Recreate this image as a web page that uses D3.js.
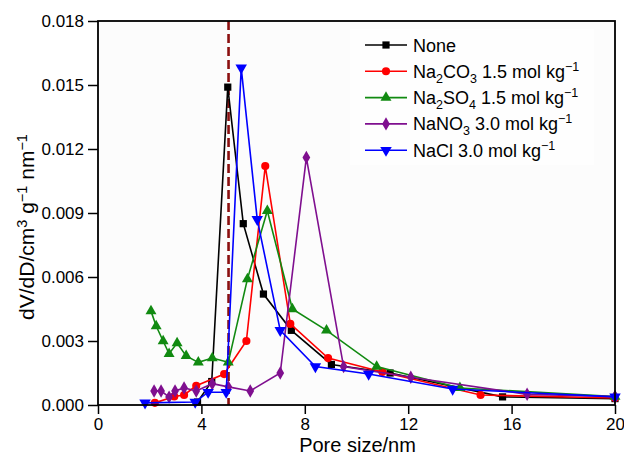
<!DOCTYPE html>
<html>
<head>
<meta charset="utf-8">
<script src="https://cdn.jsdelivr.net/npm/d3@7"></script>
<style>
  body { margin: 0; background: #fff; }
  svg { font-family: "Liberation Sans", Arial, sans-serif; }
</style>
</head>
<body>
<svg id="chart" width="624" height="454"></svg>
<script>
// pore size distributions: [pore size nm, dV/dD]
var noneData = [[3.85,0.00014],[4.4,0.0011],[5.02,0.0149],[5.62,0.0085],[6.4,0.0052],[7.48,0.0035],[9.03,0.0019],[11.3,0.0015],[15.65,0.00038],[20,0.0003]];
var na2co3Data = [[2.2,0.0001],[2.95,0.0004],[3.33,0.00047],[3.8,0.0009],[4.88,0.00145],[5.74,0.003],[6.47,0.0112],[7.44,0.0038],[8.9,0.0022],[11.0,0.00155],[14.8,0.00047],[20,0.00033]];
var na2so4Data = [[2.05,0.0044],[2.25,0.0037],[2.52,0.003],[2.75,0.0024],[3.06,0.0029],[3.41,0.0023],[3.88,0.002],[4.42,0.0022],[5.04,0.002],[5.78,0.0059],[6.55,0.0091],[7.52,0.0045],[8.84,0.0035],[10.78,0.0018],[14.0,0.0008],[20,0.0004]];
var nano3Data = [[2.17,0.00066],[2.44,0.00066],[2.75,0.00037],[2.98,0.00066],[3.33,0.0008],[3.8,0.00066],[4.42,0.001],[5.04,0.00085],[5.89,0.00066],[7.05,0.0015],[8.06,0.0116],[9.5,0.0018],[12.1,0.0013],[16.6,0.0005],[20,0.0004]];
var naclData = [[1.82,0.0001],[3.76,0.00014],[4.26,0.0006],[4.96,0.0006],[5.54,0.0158],[6.16,0.0087],[7.05,0.0035],[8.41,0.0018],[10.47,0.00145],[13.72,0.00075],[20,0.00038]];

var xTicks = [0, 4, 8, 12, 16, 20];
var yTicks = [0, 0.003, 0.006, 0.009, 0.012, 0.015, 0.018];
var markerLine = 5.05;

// legend names: [text, "sub" | "sup" | null]
var series = [
  {name: [["None"]], data: noneData, color: "#000000", symbol: d3.symbolSquare},
  {name: [["Na"], ["2","sub"], ["CO"], ["3","sub"], [" 1.5 mol kg"], ["\u22121","sup"]], data: na2co3Data, color: "#ff0000", symbol: d3.symbolCircle},
  {name: [["Na"], ["2","sub"], ["SO"], ["4","sub"], [" 1.5 mol kg"], ["\u22121","sup"]], data: na2so4Data, color: "#118a11", symbol: d3.symbolTriangle},
  {name: [["NaNO"], ["3","sub"], [" 3.0 mol kg"], ["\u22121","sup"]], data: nano3Data, color: "#7f0f8f", symbol: d3.symbolDiamond},
  {name: [["NaCl 3.0 mol kg"], ["\u22121","sup"]], data: naclData, color: "#0000ff", symbol: "down"}
];

var margin = {top: 21, right: 9, bottom: 49, left: 98};
var width = 624 - margin.left - margin.right;
var height = 454 - margin.top - margin.bottom;

var svg = d3.select("#chart");
var g = svg.append("g").attr("transform", "translate(" + margin.left + "," + margin.top + ")");

var x = d3.scaleLinear().domain([0, 20]).range([0, width]);
var y = d3.scaleLinear().domain([0, 0.018]).range([height, 0]);

g.append("rect").attr("width", width).attr("height", height).attr("fill", "#fcfcfc");
g.append("rect").attr("x", 252).attr("y", 8).attr("width", 244).attr("height", 136).attr("fill", "#fefefe");

var line = d3.line().x(function(d) { return x(d[0]); }).y(function(d) { return y(d[1]); });

// dashed reference line
g.append("line")
  .attr("x1", x(markerLine)).attr("x2", x(markerLine))
  .attr("y1", 0).attr("y2", height)
  .attr("stroke", "#8b1010").attr("stroke-width", 2.6)
  .attr("stroke-dasharray", "9,4");

function drawMarker(sel, s, size) {
  if (s.symbol === "down") {
    sel.attr("d", d3.symbol().type(d3.symbolTriangle).size(size * 1.1)())
      .attr("transform", function(d) { return "translate(" + d[0] + "," + d[1] + ") rotate(180)"; });
  } else {
    sel.attr("d", d3.symbol().type(s.symbol).size(size)())
      .attr("transform", function(d) { return "translate(" + d[0] + "," + d[1] + ")"; });
  }
}

series.forEach(function(s) {
  g.append("path")
    .datum(s.data)
    .attr("fill", "none")
    .attr("stroke", s.color)
    .attr("stroke-width", 1.6)
    .attr("d", line);
  var pts = g.selectAll(null)
    .data(s.data.map(function(d) { return [x(d[0]), y(d[1])]; }))
    .enter().append("path")
    .attr("fill", s.color);
  drawMarker(pts, s, 52);
});

// axes
g.append("g")
  .attr("transform", "translate(0," + height + ")")
  .call(d3.axisBottom(x).tickValues(xTicks).tickSize(9).tickPadding(3).tickFormat(d3.format("d")))
  .call(function(a) {
    a.select(".domain").remove();
    a.selectAll("line").attr("stroke-width", 1.5);
    a.selectAll("text").attr("font-size", "17px").attr("fill", "#000").attr("dy", "0.75em");
  });

g.append("g")
  .call(d3.axisLeft(y).tickValues(yTicks).tickSize(10).tickPadding(4).tickFormat(d3.format(".3f")))
  .call(function(a) {
    a.select(".domain").remove();
    a.selectAll("line").attr("stroke-width", 1.5);
    a.selectAll("text").attr("font-size", "17px").attr("fill", "#000");
  });

// frame
g.append("rect").attr("width", width).attr("height", height)
  .attr("fill", "none").attr("stroke", "#000").attr("stroke-width", 1.8);

// writes parts with sub/superscripts, restoring the baseline on the next part
function richText(t, parts, subSize) {
  var shift = 0;
  parts.forEach(function(p) {
    var ts = t.append("tspan").text(p[0]);
    var target = p[1] === "sub" ? 5 : p[1] === "sup" ? -7 : 0;
    if (target - shift !== 0) ts.attr("dy", target - shift);
    if (p[1]) ts.attr("font-size", subSize);
    shift = target;
  });
}

// legend
var legend = g.append("g").attr("transform", "translate(267,24)");
series.forEach(function(s, i) {
  var row = legend.append("g").attr("transform", "translate(0," + (i * 26.3) + ")");
  row.append("line").attr("x1", 0).attr("x2", 42).attr("stroke", s.color).attr("stroke-width", 1.6);
  drawMarker(row.append("path").datum([21, 0]).attr("fill", s.color), s, 52);
  var t = row.append("text").attr("x", 48).attr("y", 6.5).attr("font-size", "18px").attr("fill", "#000");
  richText(t, s.name, "12.5px");
});

// axis titles
svg.append("text")
  .attr("x", margin.left + width / 2 + 1).attr("y", 451.5)
  .attr("text-anchor", "middle").attr("font-size", "20px")
  .text("Pore size/nm");

var yl = svg.append("text")
  .attr("transform", "translate(34,227) rotate(-90)")
  .attr("text-anchor", "middle").attr("font-size", "21px");
richText(yl, [["dV/dD/cm"], ["3","sup"], [" g"], ["\u22121","sup"], [" nm"], ["\u22121","sup"]], "14.5px");
</script>
</body>
</html>
